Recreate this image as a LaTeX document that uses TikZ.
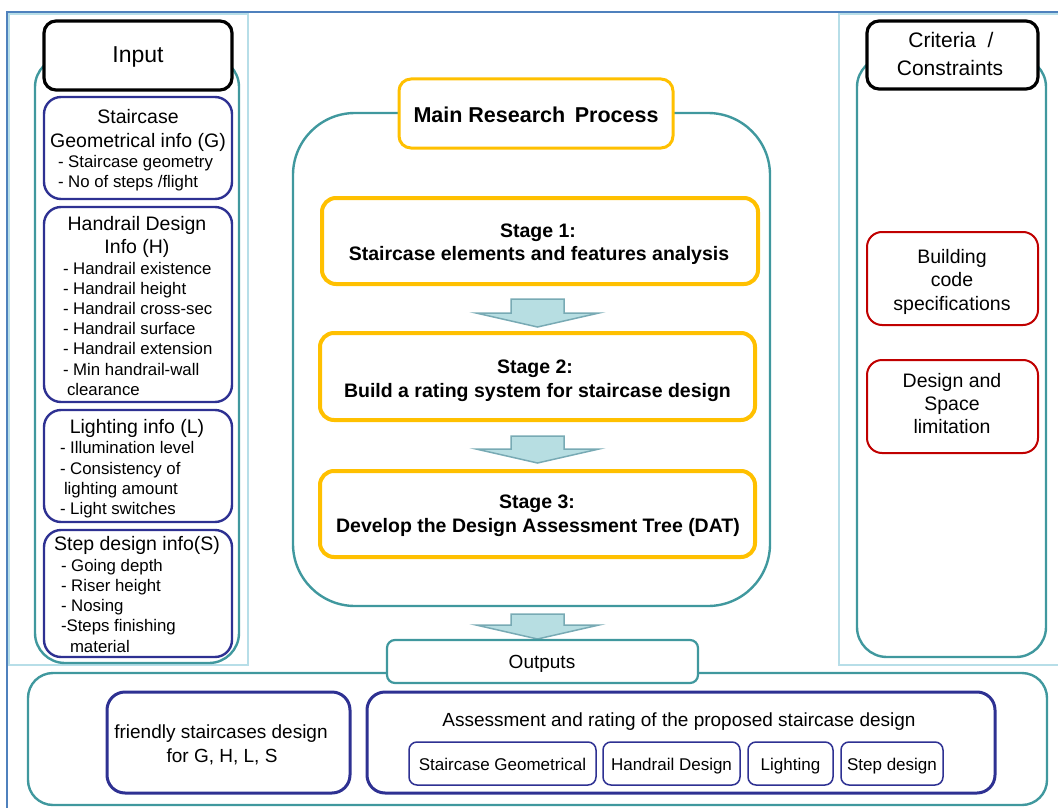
\documentclass[tikz,border=0pt]{standalone}
\usepackage{fontspec}
\setmainfont{Liberation Sans}
\usetikzlibrary{fit,calc}

\definecolor{frameblue}{RGB}{79,129,189}
\definecolor{panelcyan}{RGB}{183,222,232}
\definecolor{tealline}{RGB}{64,152,158}
\definecolor{navyline}{RGB}{46,49,146}
\definecolor{goldline}{RGB}{255,192,0}
\definecolor{redline}{RGB}{192,0,0}
\definecolor{arrowfill}{RGB}{183,222,226}
\definecolor{arrowline}{RGB}{120,170,180}

\newcommand\fhead{\fontsize{23}{27}\selectfont}
\newcommand\fcrit{\fontsize{21}{25}\selectfont}
\newcommand\ftitle{\fontsize{19.5}{23}\selectfont}
\newcommand\fitem{\fontsize{16.8}{20}\selectfont}
\newcommand\fmain{\fontsize{21.5}{25}\selectfont\bfseries}
\newcommand\fstage{\fontsize{19.5}{23}\selectfont\bfseries}
\newcommand\fout{\fontsize{19}{23}\selectfont}
\newcommand\fsmall{\fontsize{17}{20}\selectfont}

% block arrow: source node, gap below source, target node, gap above target
\newcommand\flowarrow[4]{%
  \draw[flowarrow] let \p1=(#1.south), \p2=(#3.north) in
    (\x2-26.5pt,\y1-#2pt) -- (\x2+26.5pt,\y1-#2pt) -- (\x2+26.5pt,\y2+#4pt+14pt)
    -- (\x2+61.5pt,\y2+#4pt+14pt) -- (\x2,\y2+#4pt) -- (\x2-61.5pt,\y2+#4pt+14pt)
    -- (\x2-26.5pt,\y2+#4pt+14pt) -- cycle;}

\begin{document}
\begin{tikzpicture}[x=1pt,y=-1pt,
  every node/.style={inner sep=0pt, outer sep=0pt},
  container/.style={draw=tealline, line width=2.4pt},
  headbox/.style={draw=black, line width=3.2pt, rounded corners=12pt, fill=white},
  infobox/.style={draw=navyline, line width=2.4pt, rounded corners=17pt, fill=white},
  stagebox/.style={draw=goldline, line width=4pt, rounded corners=14pt, fill=white},
  mainbox/.style={draw=goldline, line width=3pt, rounded corners=12pt, fill=white},
  critbox/.style={draw=redline, line width=2pt, rounded corners=15pt, fill=white},
  outbox/.style={draw=tealline, line width=2.2pt, rounded corners=8pt, fill=white},
  resultbox/.style={draw=navyline, line width=3pt, rounded corners=18pt, fill=white},
  smallbox/.style={draw=navyline, line width=1.5pt, rounded corners=8pt, fill=white},
  flowarrow/.style={draw=arrowline, fill=arrowfill, line width=1.5pt, line join=miter},
  ctext/.style={anchor=base},
  ltext/.style={anchor=base west},
]
\useasboundingbox (0,0) rectangle (1058,808);
\clip (0,0) rectangle (1058,808);

% page frame and side panels
\draw[frameblue, line width=2pt] (7,12) rectangle (1075,825);
\draw[panelcyan, line width=2pt] (9,14) rectangle (248,665);
\draw[panelcyan, line width=2pt] (839,14) rectangle (1075,665);

% rounded containers
\node[container, rounded corners=30pt, fit={(35,57)(239,663)}] (incont) {};
\node[container, rounded corners=30pt, fit={(857,57)(1046,657)}] (critcont) {};
\node[container, rounded corners=62pt, fit={(293,113)(770,606)}] (main) {};
\node[container, rounded corners=25pt, fit={(28,673)(1047,805)}] (outcont) {};

% ---------------- input column ----------------
\node[headbox, fit={(44,21)(232,90)}] (input) {};
\node[ctext, font=\fhead] (inputt) at (138,63) {Input};

\node[infobox, fit={(44,97)(232,199)}] (geo) {};
\foreach \t [count=\i] in {Staircase, Geometrical info (G)}
  \node[ctext, font=\ftitle] (geot\i) at (138,123+24*\i-24) {\t};
\foreach \t [count=\i] in {- Staircase geometry, - No of steps /flight}
  \node[ltext, font=\fitem] (geoi\i) at (58,167+20*\i-20) {\t};

\node[infobox, fit={(44,207)(232,402)}] (hand) {};
\foreach \t [count=\i] in {Handrail Design, Info (H)}
  \node[ctext, font=\ftitle] (handt\i) at (137,230+23*\i-23) {\t};
\foreach \t [count=\i] in {- Handrail existence, - Handrail height, - Handrail cross-sec,
    - Handrail surface, - Handrail extension, - Min handrail-wall}
  \node[ltext, font=\fitem] (handi\i) at (63,274+20.2*\i-20.2) {\t};
\node[ltext, font=\fitem] (handi7) at (67,395) {clearance};

\node[infobox, fit={(44,410)(232,522)}] (light) {};
\node[ctext, font=\ftitle] (lightt) at (137,433) {Lighting info (L)};
\node[ltext, font=\fitem] (lighti1) at (60,453) {- Illumination level};
\node[ltext, font=\fitem] (lighti2) at (60,474) {- Consistency of};
\node[ltext, font=\fitem] (lighti3) at (64,494) {lighting amount};
\node[ltext, font=\fitem] (lighti4) at (60,514) {- Light switches};

\node[infobox, fit={(44,530)(232,657)}] (step) {};
\node[ctext, font=\ftitle] (stept) at (137,550) {Step design info(S)};
\foreach \t [count=\i] in {- Going depth, - Riser height, - Nosing, -Steps finishing}
  \node[ltext, font=\fitem] (stepi\i) at (61,571+20.3*\i-20.3) {\t};
\node[ltext, font=\fitem] (stepi5) at (70,652) {material};

% ---------------- criteria column ----------------
\node[headbox, fit={(867,21)(1038,89)}] (crit) {};
\node[ctext, font=\fcrit] (critt1) at (951,48) {Criteria\ \ /};
\node[ctext, font=\fcrit] (critt2) at (950,75) {Constraints};

\node[critbox, fit={(867,232)(1038,325)}] (code) {};
\foreach \t [count=\i] in {Building, code, specifications}
  \node[ctext, font=\ftitle] (codet\i) at (952,263+23.5*\i-23.5) {\t};

\node[critbox, fit={(867,360)(1038,453)}] (space) {};
\foreach \t [count=\i] in {Design and, Space, limitation}
  \node[ctext, font=\ftitle] (spacet\i) at (952,387+23*\i-23) {\t};

% ---------------- main research process ----------------
\node[mainbox, fit={(399,79)(673,148)}] (mrp) {};
\node[ctext, font=\fmain] (mrpt) at (536,122) {Main Research\, Process};

\node[stagebox, fit={(322,198)(758,284)}] (s1) {};
\node[ctext, font=\fstage] (s1a) at (538,237) {Stage 1:};
\node[ctext, font=\fstage] (s1b) at (539,260) {Staircase elements and features analysis};

\node[stagebox, fit={(320,333)(755,420)}] (s2) {};
\node[ctext, font=\fstage] (s2a) at (535,373) {Stage 2:};
\node[ctext, font=\fstage] (s2b) at (537.5,397) {Build a rating system for staircase design};

\node[stagebox, fit={(320,471)(755,557)}] (s3) {};
\node[ctext, font=\fstage] (s3a) at (537,508) {Stage 3:};
\node[ctext, font=\fstage] (s3b) at (538,532) {Develop the Design Assessment Tree (DAT)};

\flowarrow{s1}{15}{s2}{6}
\flowarrow{s2}{16}{s3}{8}

% ---------------- outputs ----------------
\flowarrow{main}{8}{outcont}{34}
\node[outbox, fit={(387,640)(698,683)}] (outputs) {};
\node[ctext, font=\fout] (outputst) at (542,668) {Outputs};

\node[resultbox, fit={(107,692)(350,793)}] (friendly) {};
\node[ctext, font=\fout] (friendly1) at (221,738) {friendly staircases design};
\node[ctext, font=\fout] (friendly2) at (222,762) {for G, H, L, S};

\node[resultbox, fit={(367,692)(995,793)}] (assess) {};
\node[ctext, font=\fout] (assesst) at (679,726) {Assessment and rating of the proposed staircase design};

\node[smallbox, fit={(409,742)(596,785)}] (sg) {};
\node[ctext, font=\fsmall] (sgt) at (502.5,770) {Staircase Geometrical};
\node[smallbox, fit={(603,742)(740,785)}] (hd) {};
\node[ctext, font=\fsmall] (hdt) at (671.5,770) {Handrail Design};
\node[smallbox, fit={(748,742)(833,785)}] (li) {};
\node[ctext, font=\fsmall] (lit) at (790.5,770) {Lighting};
\node[smallbox, fit={(841,742)(943,785)}] (sd) {};
\node[ctext, font=\fsmall] (sdt) at (892,770) {Step design};
\end{tikzpicture}
\end{document}
